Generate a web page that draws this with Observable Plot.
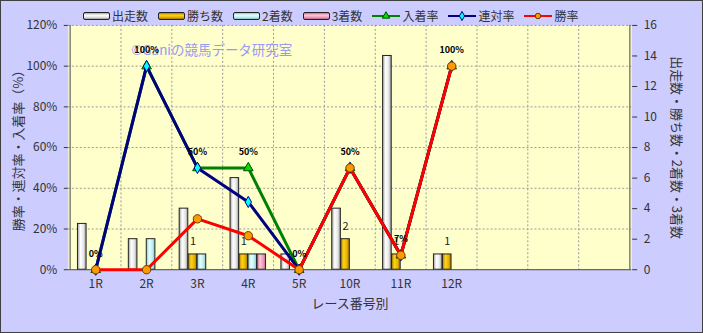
<!DOCTYPE html>
<html><head><meta charset="utf-8">
<script src="https://cdn.jsdelivr.net/npm/d3@7"></script>
<script src="https://cdn.jsdelivr.net/npm/@observablehq/plot@0.6"></script>
<style>
body{margin:0;background:#fff}
#wrap{position:relative;width:703px;height:333px;background:#ccccff;box-sizing:border-box;border:1px solid #404040;font-family:"Noto Sans CJK JP",sans-serif;overflow:hidden}
#wrap > svg{position:absolute;left:-1px;top:-1px}
#legend{position:absolute;top:7px;left:82px;display:flex;align-items:center;font-size:12px;color:#333;line-height:16px;z-index:2}
.item{display:flex;align-items:center;margin-right:10px}
.sw{width:25px;height:6px;border:1px solid #222;border-radius:2px;margin-right:2px}
.lsw{margin-right:2px;display:block}
</style></head>
<body><div id="wrap"><div id="legend"></div></div>
<script>
const races = ["1R","2R","3R","4R","5R","10R","11R","12R"];
const emptySlots = [" ", "  ", "   "];
const starts  = [3, 2, 4, 6, 1, 4, 14, 1];
const wins    = [0, 0, 1, 1, 0, 2, 1, 1];
const seconds = [0, 2, 1, 1, 0, 0, 0, 0];
const thirds  = [0, 0, 0, 1, 0, 0, 0, 0];
const winRate     = [0, 0, 25, 16.7, 0, 50, 7.1, 100];
const rentaiRate  = [0, 100, 50, 33.3, 0, 50, 7.1, 100];
const placeRate   = [0, 100, 50, 50, 0, 50, 7.1, 100];
const leftTicks  = [0, 20, 40, 60, 80, 100, 120];
const rightTicks = [0, 2, 4, 6, 8, 10, 12, 14, 16];
const barNames  = ["出走数", "勝ち数", "2着数", "3着数"];
const lineNames = ["入着率", "連対率", "勝率"];
const leftTitle = "勝率・連対率・入着率（%）";
const rightTitle = "出走数・勝ち数・2着数・3着数";
const xTitle = "レース番号別";
const watermark = "©Ganiの競馬データ研究室";

const scaleK = 120 / 16; // count -> percent axis
const cats = races.concat(emptySlots);
const W = 703, H = 333, ML = 68, MR = 70, MT = 25, MB = 63;
const bw = (W - ML - MR) / cats.length;
const barW = 9, groupOff = (bw - 4 * barW) / 2;

const grads = [
  ["g0", [[0,"#a0a0a0"],[0.35,"#ffffff"],[0.7,"#e6e6e6"],[1,"#9a9a9a"]]],
  ["g1", [[0,"#a88000"],[0.35,"#ffd21a"],[0.7,"#e8b600"],[1,"#a07400"]]],
  ["g2", [[0,"#90c8c8"],[0.35,"#e6ffff"],[0.7,"#c0f0f0"],[1,"#88c0c0"]]],
  ["g3", [[0,"#c07090"],[0.35,"#ffc8dc"],[0.7,"#f0a0c0"],[1,"#b86888"]]]
];
const barSeries = [starts, wins, seconds, thirds];
const lineStyles = [
  {data: placeRate, stroke: "#008000", symbol: "triangle", fill: "#00dd00", ms: "#005000", r: 3.6},
  {data: rentaiRate, stroke: "#000080", symbol: "diamond", fill: "#00ffff", ms: "#000080", r: 3.4},
  {data: winRate, stroke: "#ff0000", symbol: "circle", fill: "#ff9900", ms: "#6a3a00", r: 4.2}
];

const rows = arr => races.map((r, i) => ({race: r, v: arr[i]}));

const marks = [
  Plot.frame({fill: "#ffffcc", stroke: null}),
  Plot.ruleY([20, 40, 60, 80, 100, 120], {stroke: "#999", strokeDasharray: "2,2", strokeWidth: 1}),
  Plot.ruleX(cats.slice(1), {dx: -bw / 2, stroke: "#999", strokeDasharray: "2,2", strokeWidth: 1}),
  Plot.text([watermark], {frameAnchor: "top-left", dx: 63, dy: 20, text: d => d, textAnchor: "start", fill: "#9999ee", fontSize: 13.5}),
];
barSeries.forEach((arr, k) => {
  marks.push(Plot.barY(rows(arr).filter(d => d.v > 0), {
    x: "race", y: d => d.v * scaleK, fill: `url(#${grads[k][0]})`, stroke: "#222", strokeWidth: 1,
    insetLeft: groupOff + k * barW, insetRight: bw - groupOff - (k + 1) * barW
  }));
});
marks.push(
  Plot.ruleX([cats[0]], {dx: -bw / 2, stroke: "#444", strokeWidth: 1}),
  Plot.ruleX([cats[cats.length - 1]], {dx: bw / 2, stroke: "#444", strokeWidth: 1}),
  Plot.ruleY([0], {stroke: "#444", strokeWidth: 1}),
  Plot.axisY({anchor: "left", ticks: leftTicks, tickFormat: d => d + "%", tickSize: 4, tickPadding: 7, label: null, fontSize: 12}),
  Plot.axisY({anchor: "right", ticks: rightTicks.map(v => v * scaleK), tickFormat: v => Math.round(v / scaleK), tickSize: 5, tickPadding: 7, label: null, fontSize: 12}),
  Plot.axisX({anchor: "bottom", tickSize: 0, tickPadding: 10, label: null, fontSize: 12}),
  Plot.text(rows(wins).filter(d => d.v > 0), {x: "race", y: d => d.v * scaleK, text: d => String(d.v), dx: groupOff + 1.5 * barW - bw / 2, dy: -13, fontSize: 11, fill: "#222"})
);
lineStyles.forEach(s => {
  marks.push(
    Plot.line(rows(s.data), {x: "race", y: "v", stroke: s.stroke, strokeWidth: 3}),
    Plot.dot(rows(s.data), {x: "race", y: "v", symbol: s.symbol, fill: s.fill, stroke: s.ms, strokeWidth: 1, r: s.r})
  );
});
marks.push(
  Plot.text(rows(placeRate), {x: "race", y: "v", text: d => Math.round(d.v) + "%", dy: -16, fontSize: 9, fontWeight: "bold", fill: "#000"}),
  Plot.text([leftTitle], {frameAnchor: "left", dx: -50, rotate: -90, textAnchor: "middle", text: d => d, fontSize: 13, fill: "#333"}),
  Plot.text([rightTitle], {frameAnchor: "right", dx: 45, rotate: 90, textAnchor: "middle", text: d => d, fontSize: 13, fill: "#333"}),
  Plot.text([xTitle], {frameAnchor: "bottom", dy: 38, text: d => d, fontSize: 13, fill: "#333"})
);

const svg = Plot.plot({
  width: W, height: H,
  marginLeft: ML, marginRight: MR, marginTop: MT, marginBottom: MB,
  style: {background: "transparent", fontFamily: '"Noto Sans CJK JP", sans-serif', fontSize: "12px", color: "#333"},
  x: {type: "band", domain: cats, padding: 0, axis: null},
  y: {domain: [0, 120], axis: null},
  marks
});
const defs = d3.create("svg:defs");
grads.forEach(([id, stops]) => {
  const lg = defs.append("linearGradient").attr("id", id).attr("x1", 0).attr("x2", 1).attr("y1", 0).attr("y2", 0);
  stops.forEach(([o, c]) => lg.append("stop").attr("offset", o).attr("stop-color", c));
});
svg.insertBefore(defs.node(), svg.firstChild);
document.getElementById("wrap").appendChild(svg);

const lg = document.getElementById("legend");
barNames.forEach((n, k) => {
  const it = document.createElement("div"); it.className = "item";
  const sw = document.createElement("span"); sw.className = "sw";
  const st = grads[k][1];
  sw.style.background = `linear-gradient(to bottom, ${st.map(([o, c]) => c + " " + (o * 100) + "%").join(",")})`;
  it.appendChild(sw);
  const t = document.createElement("span"); t.textContent = n; it.appendChild(t);
  lg.appendChild(it);
});
lineNames.forEach((n, k) => {
  const s = lineStyles[k];
  const it = document.createElement("div"); it.className = "item";
  const sv = d3.create("svg").attr("width", 28).attr("height", 10).attr("class", "lsw");
  sv.append("line").attr("x1", 0).attr("x2", 28).attr("y1", 5).attr("y2", 5).attr("stroke", s.stroke).attr("stroke-width", 2);
  const type = s.symbol === "triangle" ? d3.symbolTriangle : s.symbol === "diamond" ? d3.symbolDiamond : d3.symbolCircle;
  sv.append("path").attr("d", d3.symbol(type, 24)()).attr("transform", "translate(14,5)")
    .attr("fill", s.fill).attr("stroke", s.ms);
  it.appendChild(sv.node());
  const t = document.createElement("span"); t.textContent = n; it.appendChild(t);
  lg.appendChild(it);
});
</script></body></html>
